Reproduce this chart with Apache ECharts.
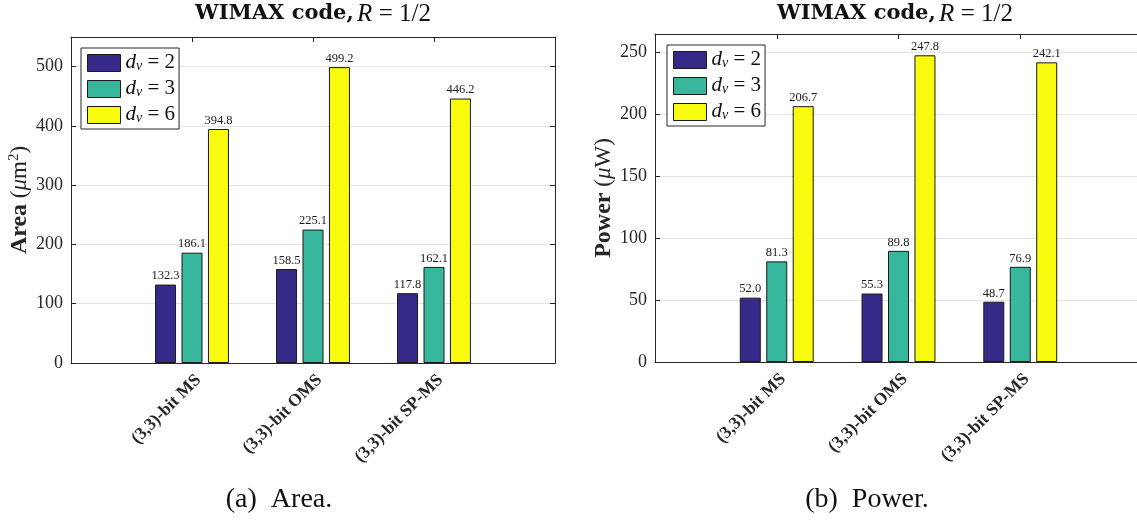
<!DOCTYPE html>
<html><head><meta charset="utf-8">
<script src="https://cdn.jsdelivr.net/npm/echarts@6/dist/echarts.min.js"></script>
<style>html,body{margin:0;padding:0;background:#fff}#c{width:1137px;height:520px}</style>
</head><body><div id="c"></div>
<script>
const categories = ['(3,3)-bit MS', '(3,3)-bit OMS', '(3,3)-bit SP-MS'];
const seriesNames = ['d_v = 2', 'd_v = 3', 'd_v = 6'];
const areaDv2 = [132.3, 158.5, 117.8];
const areaDv3 = [186.1, 225.1, 162.1];
const areaDv6 = [394.8, 499.2, 446.2];
const powerDv2 = [52.0, 55.3, 48.7];
const powerDv3 = [81.3, 89.8, 76.9];
const powerDv6 = [206.7, 247.8, 242.1];
const areaTicks = [0, 100, 200, 300, 400, 500];
const powerTicks = [0, 50, 100, 150, 200, 250];

const colors = ['#352a87', '#37b89d', '#f9fb0e'];
const FONT = 'Liberation Serif';
const INK = '#262626';
const padCats = [''].concat(categories, [' ']);
const pad = a => [null].concat(a, [null]);

function xAxes(gi) {
  return [
    { gridIndex: gi, type: 'category', data: padCats, boundaryGap: false, position: 'bottom',
      axisLine: { lineStyle: { color: INK, width: 1 } },
      axisTick: { show: true, inside: true, length: 5, interval: 0, lineStyle: { color: INK } },
      axisLabel: { rotate: 45, fontFamily: FONT, fontWeight: 'bold', fontSize: 17.5, color: INK,
        margin: 8, interval: 0, verticalAlign: 'top' },
      splitLine: { show: false } },
    { gridIndex: gi, type: 'category', data: padCats, boundaryGap: false, position: 'top',
      axisLine: { onZero: false, lineStyle: { color: INK, width: 1 } },
      axisTick: { show: true, inside: true, length: 5, interval: 0, lineStyle: { color: INK } },
      axisLabel: { show: false }, splitLine: { show: false } }
  ];
}
function yAxes(gi, ticks, max, name) {
  const interval = ticks[1] - ticks[0];
  return [
    { gridIndex: gi, type: 'value', min: ticks[0], max: max, interval: interval, position: 'left',
      name: name, nameLocation: 'middle', nameRotate: 90, nameGap: 33,
      nameTextStyle: { fontFamily: FONT, fontSize: 23, color: INK,
        rich: { b: { fontFamily: FONT, fontSize: 24, fontWeight: 'bold', color: INK },
                n: { fontFamily: FONT, fontSize: 23, color: INK },
                i: { fontFamily: FONT, fontSize: 23, fontStyle: 'italic', color: INK },
                sup: { fontFamily: FONT, fontSize: 15, color: INK, padding: [0, 0, 12, 0] } } },
      axisLine: { show: true, lineStyle: { color: INK, width: 1 } },
      axisTick: { show: true, inside: true, length: 5, lineStyle: { color: INK } },
      axisLabel: { fontFamily: FONT, fontSize: 18, color: INK, margin: 8, showMaxLabel: false },
      splitLine: { show: true, lineStyle: { color: '#e4e4e4', width: 1 } } },
    { gridIndex: gi, type: 'value', min: ticks[0], max: max, interval: interval, position: 'right',
      axisLine: { show: true, onZero: false, lineStyle: { color: INK, width: 1 } },
      axisTick: { show: true, inside: true, length: 5, lineStyle: { color: INK } },
      axisLabel: { show: false }, splitLine: { show: false } }
  ];
}
function bars(gi, arrays) {
  return arrays.map((arr, k) => ({
    name: seriesNames[k], type: 'bar', xAxisIndex: gi * 2, yAxisIndex: gi * 2,
    data: pad(arr), barWidth: 21, barGap: '26%',
    itemStyle: { color: colors[k], borderColor: '#1a1a1a', borderWidth: 1 },
    label: { show: true, position: 'top', distance: 2, fontFamily: FONT, fontSize: 12.5, color: '#1a1a1a',
      formatter: p => (p.value == null ? '' : Number(p.value).toFixed(1)) },
    emphasis: { disabled: true }
  }));
}
function legend(left, top) {
  return {
    data: seriesNames, orient: 'vertical', left: left, top: top,
    itemWidth: 33, itemHeight: 17, itemGap: 5, padding: [4, 4, 4, 6],
    borderColor: INK, borderWidth: 1, backgroundColor: '#fff',
    icon: 'rect', itemStyle: { borderColor: '#1a1a1a', borderWidth: 1 },
    selectedMode: false,
    formatter: n => '{i|d}{s|v}{m| = ' + n.slice(-1) + '}',
    textStyle: { rich: {
      i: { fontFamily: FONT, fontStyle: 'italic', fontSize: 21, color: '#111', verticalAlign: 'bottom', lineHeight: 20 },
      s: { fontFamily: FONT, fontStyle: 'italic', fontSize: 14, color: '#111', verticalAlign: 'bottom', lineHeight: 20, padding: [6, 0, 0, 0] },
      m: { fontFamily: FONT, fontSize: 21, color: '#111', verticalAlign: 'bottom', lineHeight: 20 } } }
  };
}
const titleRich = {
  b: { fontFamily: 'DejaVu Serif', fontSize: 21, fontWeight: 'bold', fill: '#111' },
  i: { fontFamily: FONT, fontSize: 25, fontStyle: 'italic', fill: '#111' },
  n: { fontFamily: FONT, fontSize: 25, fill: '#111' }
};
function titleText(x) {
  return { type: 'text', x: x, y: 14, style: { text: '{b|WIMAX code,} {i|R}{n| = 1/2}', rich: titleRich,
    textAlign: 'center', textVerticalAlign: 'middle', fill: '#111' } };
}
function caption(x, t) {
  return { type: 'text', x: x, y: 500, style: { text: t, fontFamily: FONT, fontSize: 28, fill: '#111',
    textAlign: 'center', textVerticalAlign: 'middle' } };
}

const chart = echarts.init(document.getElementById('c'), null, { renderer: 'canvas' });
chart.setOption({
  animation: false,
  backgroundColor: '#fff',
  grid: [
    { left: 71, top: 37, width: 484, height: 326, outerBoundsMode: 'none' },
    { left: 655, top: 34, width: 487, height: 328, outerBoundsMode: 'none' }
  ],
  xAxis: xAxes(0).concat(xAxes(1)),
  yAxis: yAxes(0, areaTicks, 550, '{b|Area} {n|(}{i|μ}{n|m}{sup|2}{n|)}')
    .concat(yAxes(1, powerTicks, 265, '{b|Power} {n|(}{i|μ}{n|W)}')),
  legend: [legend(81, 48), legend(667, 45)],
  series: bars(0, [areaDv2, areaDv3, areaDv6]).concat(bars(1, [powerDv2, powerDv3, powerDv6])),
  graphic: [titleText(313), titleText(895), caption(279, '(a)  Area.'), caption(867, '(b)  Power.')]
});
</script>
</body></html>
